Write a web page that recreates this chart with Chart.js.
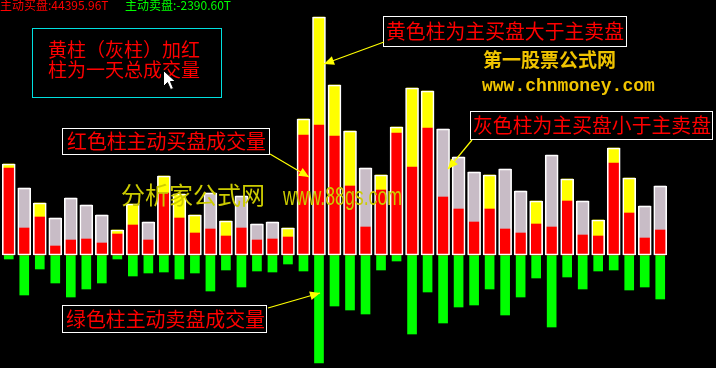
<!DOCTYPE html>
<html>
<head>
<meta charset="utf-8">
<script src="https://cdn.jsdelivr.net/npm/chart.js@4.4.0/dist/chart.umd.min.js"></script>
<style>
html,body{margin:0;padding:0;background:#000;}
#wrap{width:716px;height:368px;position:relative;}
</style>
</head>
<body>
<div id="wrap"><canvas id="c"></canvas></div>
<script>
// Active buy volume (red) and active sell volume (green / yellow-or-gray cap), per day
const days = Array.from({length: 43}, (_, i) => 'D' + (i + 1));
const buyVol = [87,27,38,9,15,16,12,21,30,15,62,37,22,26,19,27,15,16,18,120,130,119,69,28,65,122,88,127,58,46,33,46,26,22,31,28,54,20,19,92,42,17,25];
const sellVol = [4,40,14,28,42,34,28,4,21,18,17,24,18,36,15,32,16,17,9,16,108,51,55,59,15,6,79,37,68,52,50,34,60,42,23,72,22,34,16,15,35,32,44];
const headerBuy = '主动买盘:44395.96T';
const headerSell = '主动卖盘:-2390.60T';

const totalVol = buyVol.map((b, i) => b + sellVol[i]);
const capColors = buyVol.map((b, i) => b > sellVol[i] ? '#ffff00' : '#c8bcc6');
const sellNeg = sellVol.map(v => -v);

const annot = {
  id: 'annot',
  afterDraw(chart) {
    const ctx = chart.ctx;
    ctx.save();
    // header
    ctx.textBaseline = 'middle';
    ctx.textAlign = 'left';
    ctx.font = '12px "Noto Sans CJK SC"';
    ctx.fillStyle = '#ff0000';
    ctx.fillText(headerBuy, 0, 5);
    ctx.fillStyle = '#00ff00';
    ctx.fillText(headerSell, 125, 5);

    // watermarks
    ctx.fillStyle = '#cccc00';
    ctx.font = '24px "Noto Sans CJK SC"';
    ctx.textBaseline = 'middle';
    ctx.fillText('分析家公式网', 121, 195, 150);
    ctx.font = '25px "Liberation Sans"';
    ctx.textBaseline = 'alphabetic';
    ctx.fillText('www.88gs.com', 283, 205, 119);

    ctx.fillStyle = '#f0c400';
    ctx.font = 'bold 19px "Noto Sans CJK SC"';
    ctx.textBaseline = 'middle';
    ctx.fillText('第一股票公式网', 483, 60, 137);
    ctx.font = 'bold 18px "Liberation Mono"';
    ctx.textBaseline = 'alphabetic';
    ctx.fillText('www.chnmoney.com', 482, 91, 176);

    // boxes
    function box(x1, y1, x2, y2, color) {
      ctx.fillStyle = '#000';
      ctx.fillRect(x1, y1, x2 - x1, y2 - y1);
      ctx.strokeStyle = color;
      ctx.lineWidth = 1;
      ctx.strokeRect(x1 + 0.5, y1 + 0.5, x2 - x1 - 1, y2 - y1 - 1);
    }
    function txt(s, x, y, size, w) {
      ctx.fillStyle = '#ff0000';
      ctx.font = size + 'px "Noto Sans CJK SC"';
      ctx.textBaseline = 'middle';
      ctx.textAlign = 'left';
      ctx.fillText(s, x, y, w);
    }
    box(32, 28, 222, 98, '#00e0e0');
    txt('黄柱（灰柱）加红', 48, 50, 19, 158);
    txt('柱为一天总成交量', 48, 70, 19, 158);

    box(383, 16, 627, 47, '#ffffff');
    txt('黄色柱为主买盘大于主卖盘', 386, 31, 20, 238);

    box(470, 111, 713, 140, '#ffffff');
    txt('灰色柱为主买盘小于主卖盘', 473, 125, 20, 238);

    box(62, 128, 270, 155, '#ffffff');
    txt('红色柱主动买盘成交量', 67, 141, 20, 199);

    box(62, 305, 267, 333, '#ffffff');
    txt('绿色柱主动卖盘成交量', 66, 319, 20, 199);

    // arrows
    function arrow(x1, y1, x2, y2) {
      ctx.strokeStyle = '#ffff00';
      ctx.fillStyle = '#ffff00';
      ctx.lineWidth = 1.2;
      ctx.beginPath();
      ctx.moveTo(x1, y1);
      ctx.lineTo(x2, y2);
      ctx.stroke();
      const a = Math.atan2(y2 - y1, x2 - x1);
      const L = 10, W = 4.5;
      ctx.beginPath();
      ctx.moveTo(x2, y2);
      ctx.lineTo(x2 - L * Math.cos(a) + W * Math.sin(a), y2 - L * Math.sin(a) - W * Math.cos(a));
      ctx.lineTo(x2 - L * Math.cos(a) - W * Math.sin(a), y2 - L * Math.sin(a) + W * Math.cos(a));
      ctx.closePath();
      ctx.fill();
    }
    arrow(384, 42, 324, 64);
    arrow(270, 154, 309, 177);
    arrow(472, 140, 448, 169);
    arrow(268, 308, 320, 293);

    // mouse cursor
    ctx.beginPath();
    ctx.moveTo(163.5, 70.5);
    ctx.lineTo(163.5, 86.5);
    ctx.lineTo(167.5, 82.5);
    ctx.lineTo(170.5, 89.5);
    ctx.lineTo(173.5, 88.5);
    ctx.lineTo(170.5, 81.5);
    ctx.lineTo(175.5, 81.5);
    ctx.closePath();
    ctx.fillStyle = '#ffffff';
    ctx.fill();
    ctx.strokeStyle = '#000';
    ctx.lineWidth = 1;
    ctx.stroke();
    ctx.restore();
  }
};

new Chart(document.getElementById('c'), {
  type: 'bar',
  data: {
    labels: days,
    datasets: [
      {
        label: 'total',
        data: totalVol,
        backgroundColor: 'rgba(0,0,0,0)',
        borderColor: '#ffffff',
        borderWidth: 1,
        borderSkipped: false,
        barThickness: 13,
        grouped: false,
        stack: 'outline'
      },
      {
        label: 'buy',
        data: buyVol,
        backgroundColor: '#ff0000',
        borderWidth: 0,
        barThickness: 11,
        grouped: false,
        stack: 'fill'
      },
      {
        label: 'cap',
        data: sellVol,
        backgroundColor: capColors,
        borderWidth: 0,
        barThickness: 11,
        grouped: false,
        stack: 'fill'
      },
      {
        label: 'sell',
        data: sellNeg,
        backgroundColor: '#00ff00',
        borderWidth: 0,
        barThickness: 9,
        grouped: false,
        stack: 'sell'
      }
    ]
  },
  options: {
    responsive: true,
    maintainAspectRatio: false,
    animation: false,
    layout: { padding: { left: 1, right: 48, top: 0, bottom: 0 } },
    plugins: { legend: { display: false }, tooltip: { enabled: false } },
    scales: {
      x: { display: false },
      y: { display: false, stacked: true, min: -113, max: 255 }
    }
  },
  plugins: [annot]
});
</script>
</body>
</html>
